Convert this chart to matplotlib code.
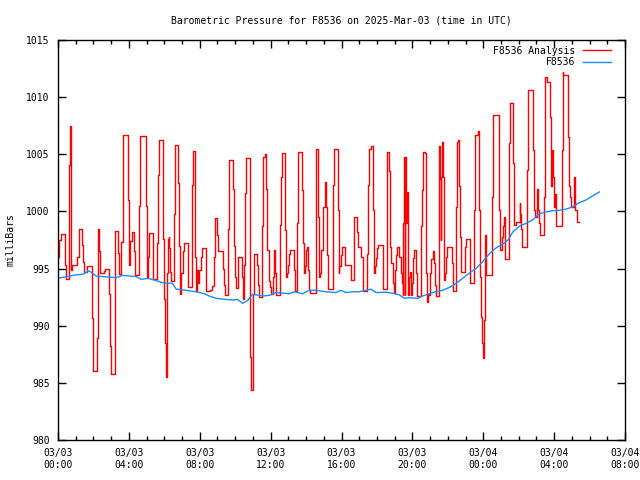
import numpy as np
import pandas as pd
import matplotlib
matplotlib.use("Agg")
import matplotlib.pyplot as plt
import matplotlib.dates as mdates

# minutes after 2025-03-03 00:00 UTC, pressure in mb
analysis_min = [0, 4, 10, 25, 27, 36, 38, 42, 43, 45, 47, 65, 70, 72, 81, 86, 89, 98, 115, 120,
                133, 134, 137, 139, 141, 157, 160, 174, 177, 181, 193, 194, 203, 205, 214, 219, 221, 237, 240, 245,
                249, 257, 260, 275, 279, 298, 301, 304, 307, 309, 321, 323, 335, 338, 341, 354, 357, 360, 363, 366,
                368, 370, 372, 375, 377, 380, 384, 394, 397, 407, 411, 414, 418, 422, 427, 439, 441, 454, 457, 463,
                465, 467, 471, 474, 479, 483, 488, 500, 502, 515, 521, 527, 531, 533, 537, 542, 558, 562, 564, 574,
                578, 591, 595, 598, 603, 608, 622, 625, 630, 634, 638, 649, 651, 652, 659, 661, 665, 675, 678, 682,
                692, 695, 700, 704, 709, 713, 718, 722, 727, 730, 734, 736, 739, 752, 755, 758, 767, 770, 772, 775,
                779, 783, 787, 800, 802, 809, 813, 825, 828, 832, 835, 839, 843, 846, 851, 853, 872, 875, 880, 884,
                887, 892, 896, 899, 903, 906, 910, 914, 930, 932, 936, 947, 950, 953, 957, 962, 971, 991, 993, 1001,
                1004, 1012, 1015, 1027, 1032, 1034, 1048, 1051, 1054, 1061, 1065, 1069, 1072, 1076, 1081, 1085, 1099, 1102, 1113, 1115,
                1120, 1124, 1129, 1133, 1137, 1140, 1143, 1148, 1156, 1160, 1165, 1167, 1169, 1172, 1174, 1176, 1178, 1181, 1184, 1187,
                1192, 1196, 1200, 1203, 1207, 1213, 1216, 1228, 1231, 1235, 1242, 1245, 1247, 1249, 1253, 1257, 1261, 1264, 1269, 1273,
                1277, 1279, 1289, 1291, 1293, 1296, 1298, 1301, 1304, 1306, 1308, 1312, 1315, 1318, 1333, 1336, 1348, 1351, 1356, 1359,
                1362, 1366, 1379, 1383, 1394, 1396, 1409, 1411, 1422, 1427, 1430, 1433, 1437, 1439, 1443, 1445, 1447, 1449, 1471, 1473,
                1492, 1494, 1498, 1503, 1507, 1510, 1512, 1515, 1526, 1528, 1531, 1542, 1545, 1551, 1564, 1566, 1568, 1570, 1587, 1590,
                1607, 1613, 1616, 1623, 1626, 1630, 1632, 1646, 1650, 1655, 1666, 1668, 1671, 1673, 1675, 1681, 1684, 1686, 1705, 1709,
                1711, 1726, 1729, 1734, 1737, 1748, 1752, 1756, 1763]
analysis_mb = [996.0, 997.5, 998.0, 995.3, 994.1, 997.4, 1004.1, 1007.5, 1001.2, 994.9, 995.3, 996.0, 997.8, 998.5, 997.1, 995.6, 994.7, 995.2, 990.7, 986.0,
               988.9, 995.3, 998.5, 996.5, 994.6, 994.8, 995.0, 992.8, 988.2, 985.8, 992.2, 998.3, 996.4, 994.5, 997.3, 1003.6, 1006.7, 1001.0, 995.3, 997.4,
               998.2, 996.5, 994.4, 1000.5, 1006.6, 1000.5, 994.2, 996.0, 997.4, 998.1, 996.0, 994.1, 997.2, 1003.2, 1006.25, 1003.3, 997.6, 992.3, 988.5, 985.5,
               988.5, 994.6, 997.6, 997.8, 996.8, 994.7, 993.9, 999.8, 1005.8, 1002.5, 997.0, 992.8, 994.6, 996.5, 997.2, 995.3, 993.4, 1002.3, 1005.3, 1002.2,
               996.0, 993.0, 994.9, 993.7, 994.9, 996.0, 996.8, 994.9, 993.0, 993.1, 993.5, 996.0, 997.9, 999.4, 997.9, 996.5, 995.0, 993.6, 992.7, 998.5,
               1004.5, 1002.0, 997.0, 994.3, 993.3, 996.0, 994.3, 992.3, 995.3, 1001.6, 1004.7, 994.6, 987.3, 984.4, 987.3, 992.8, 996.3, 995.3, 993.6, 992.5,
               998.7, 1004.8, 1005.0, 1002.0, 996.6, 993.9, 993.4, 992.8, 994.3, 996.6, 995.5, 994.6, 992.7, 998.8, 1003.0, 1005.1, 1002.2, 998.4, 994.3, 994.6,
               995.3, 996.3, 996.6, 994.9, 993.0, 999.0, 1005.2, 1001.9, 997.2, 994.6, 995.2, 996.6, 996.9, 994.9, 993.1, 992.9, 999.3, 1005.5, 999.5, 994.3,
               994.6, 996.6, 998.1, 1000.4, 1002.6, 1000.4, 996.2, 993.2, 996.6, 1002.3, 1005.5, 1000.1, 994.6, 995.2, 996.2, 996.9, 995.3, 994.6, 994.0, 996.8,
               999.5, 998.2, 996.9, 996.0, 994.0, 993.0, 996.3, 1002.3, 1005.5, 1005.7, 1000.1, 994.6, 995.2, 995.9, 996.8, 997.1, 994.9, 993.2, 1000.4, 1005.2,
               1003.5, 996.9, 995.5, 993.7, 992.9, 994.9, 996.2, 996.9, 996.0, 994.6, 993.7, 992.7, 999.0, 1004.8, 992.7, 1004.8, 999.0, 1001.7, 992.7, 994.3,
               994.7, 992.7, 993.7, 995.9, 996.6, 994.6, 992.6, 998.7, 1001.9, 1005.2, 1005.1, 998.4, 994.6, 992.1, 992.8, 992.7, 994.6, 995.8, 996.5, 995.5,
               993.6, 992.6, 999.1, 1005.7, 1002.8, 997.5, 1003.0, 1006.1, 1003.0, 997.2, 994.0, 994.6, 996.0, 996.9, 995.5, 993.0, 1000.4, 1006.1, 1006.25, 1002.2,
               997.8, 994.7, 996.9, 997.6, 995.5, 993.7, 1000.1, 1006.7, 1007.0, 1000.1, 994.3, 990.8, 988.5, 987.2, 990.5, 994.3, 997.9, 994.4, 1001.3, 1008.4,
               1006.0, 1000.1, 996.6, 997.8, 998.7, 999.5, 997.8, 995.8, 999.1, 1006.0, 1009.5, 1004.2, 998.8, 999.1, 1000.7, 999.8, 998.5, 996.9, 1003.6, 1010.6,
               1005.4, 1000.1, 999.5, 1002.0, 1000.1, 999.0, 997.9, 1001.3, 1011.8, 1011.35, 1008.3, 1003.9, 1002.2, 1005.4, 1003.0, 1000.4, 1001.5, 998.7, 1005.4, 1012.2,
               1011.9, 1006.5, 1002.2, 1001.3, 1000.4, 1003.0, 1000.1, 999.1, 999.1]

station_min = [0, 61, 84, 104, 117, 129, 196, 219, 264, 281, 305, 332, 354, 388, 400, 433, 467, 496, 512, 535,
               569, 591, 608, 625, 642, 659, 693, 716, 738, 783, 800, 828, 851, 874, 907, 941, 958, 975, 998, 1020,
               1043, 1060, 1077, 1111, 1133, 1156, 1173, 1190, 1219, 1235, 1257, 1280, 1302, 1325, 1348, 1370, 1393, 1415, 1438, 1461,
               1483, 1506, 1524, 1540, 1562, 1585, 1607, 1630, 1652, 1675, 1698, 1720, 1743, 1765, 1788, 1810, 1833]
station_mb = [994.15, 994.45, 994.5, 994.8, 994.6, 994.35, 994.2, 994.4, 994.3, 994.06, 994.15, 993.95, 993.77, 993.7, 993.2, 993.1, 992.97, 992.8, 992.6, 992.4,
              992.3, 992.25, 992.3, 991.96, 992.2, 992.75, 992.6, 992.66, 992.9, 992.8, 992.97, 992.8, 993.1, 993.1, 992.97, 992.9, 993.1, 992.9, 992.97, 992.97,
              993.1, 993.2, 992.9, 992.93, 992.84, 992.7, 992.4, 992.45, 992.4, 992.6, 992.8, 993.0, 993.1, 993.35, 993.7, 994.15, 994.6, 995.0, 995.6, 996.3,
              996.8, 997.15, 997.5, 998.2, 998.7, 998.96, 999.25, 999.8, 999.95, 1000.07, 1000.1, 1000.2, 1000.4, 1000.77, 1001.0, 1001.35, 1001.7]

start = pd.Timestamp("2025-03-03 00:00")
t_analysis = start + pd.to_timedelta(analysis_min, unit="min")
t_station = start + pd.to_timedelta(station_min, unit="min")

plt.rcParams['font.family'] = 'DejaVu Sans Mono'
plt.rcParams['font.size'] = 7

fig = plt.figure(figsize=(6.4, 4.8), dpi=100)
ax = fig.add_axes([58 / 640, 40 / 480, 567 / 640, 400 / 480])

ax.plot(t_analysis, analysis_mb, color='#ff0000', lw=1, drawstyle='steps-post', label='F8536 Analysis')
ax.plot(t_station, station_mb, color='#1a8cff', lw=1, label='F8536')

ax.set_xlim(start, start + pd.Timedelta(hours=32))
ax.set_ylim(980, 1015)
ax.set_yticks(np.arange(980, 1016, 5))
ax.xaxis.set_major_locator(mdates.HourLocator(byhour=[0, 4, 8, 12, 16, 20]))
ax.xaxis.set_minor_locator(mdates.HourLocator())
ax.xaxis.set_major_formatter(mdates.DateFormatter('%m/%d\n%H:%M'))
ax.tick_params(which='both', direction='in', top=True, right=True, width=1)
ax.tick_params(which='major', length=6, pad=6)
ax.tick_params(which='minor', length=3)
for s in ax.spines.values():
    s.set_linewidth(1)

ax.set_ylabel('milliBars', labelpad=8)
ax.set_title('Barometric Pressure for F8536 on 2025-Mar-03 (time in UTC)', fontsize=7, pad=12)
ax.legend(loc='upper right', bbox_to_anchor=(0.985, 1.0), frameon=False, markerfirst=False,
          handlelength=2.8, borderaxespad=0.2, labelspacing=0.15, handletextpad=0.8)

fig.savefig('out.png', dpi=100)
